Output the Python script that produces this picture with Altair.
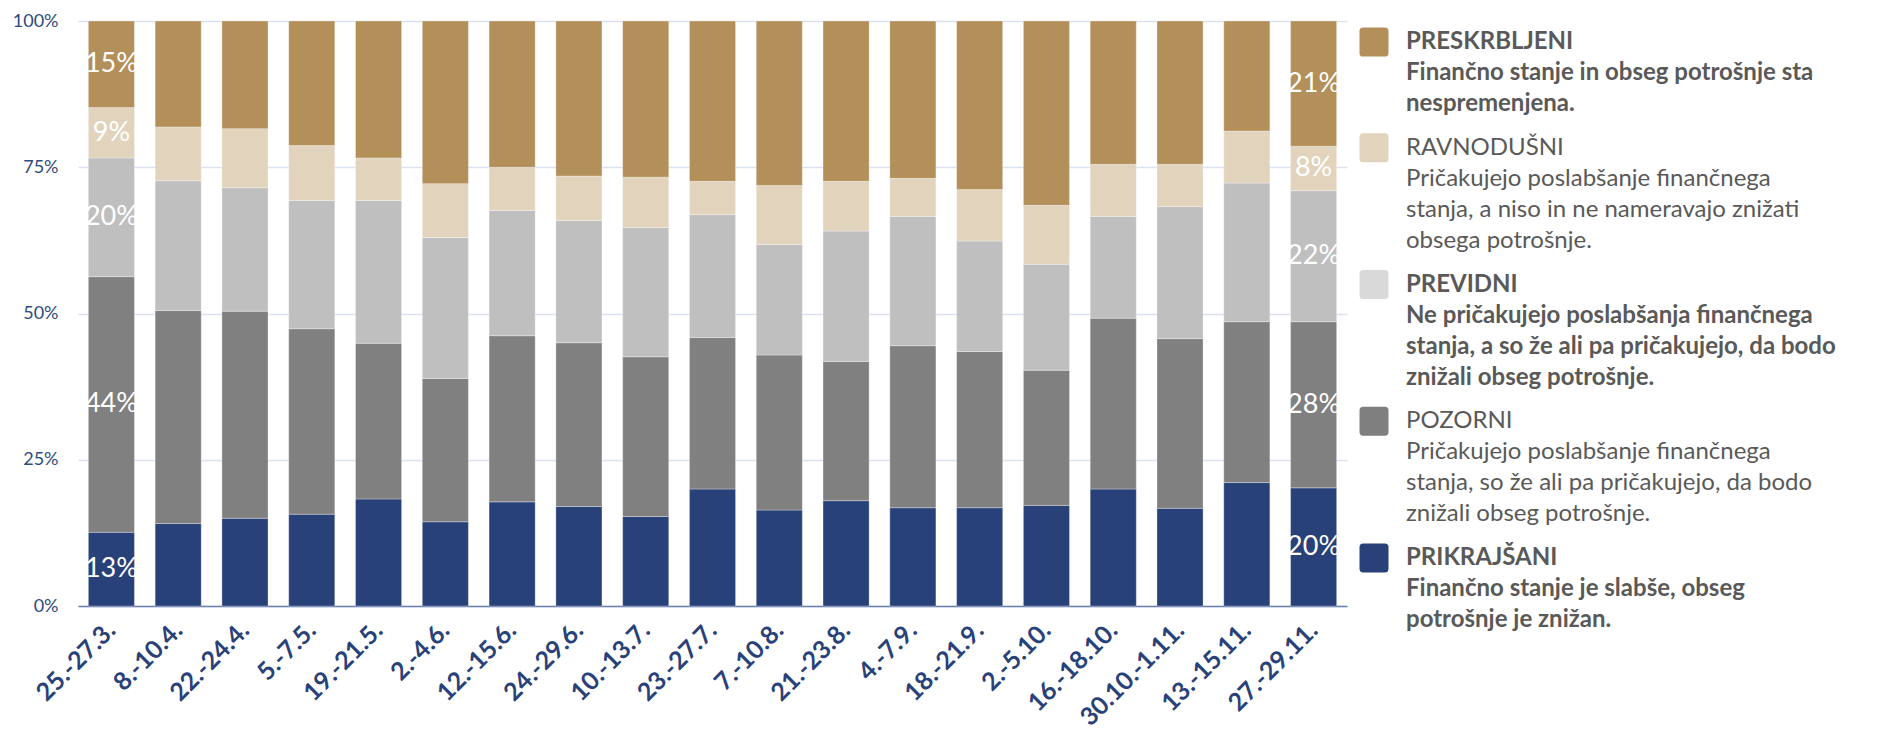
import altair as alt
import pandas as pd

periods = ["25.-27.3.", "8.-10.4.", "22.-24.4.", "5.-7.5.", "19.-21.5.", "2.-4.6.",
           "12.-15.6.", "24.-29.6.", "10.-13.7.", "23.-27.7.", "7.-10.8.", "21.-23.8.",
           "4.-7.9.", "18.-21.9.", "2.-5.10.", "16.-18.10.", "30.10.-1.11.", "13.-15.11.",
           "27.-29.11."]

prikrajsani   = [12.6, 14.1, 15.0, 15.7, 18.3, 14.4, 17.8, 17.0, 15.3, 20.0, 16.4, 18.0, 16.8, 16.8, 17.2, 20.0, 16.7, 21.1, 20.2]
pozorni       = [43.7, 36.4, 35.4, 31.7, 26.6, 24.5, 28.4, 28.0, 27.3, 25.9, 26.5, 23.8, 27.7, 26.7, 23.1, 29.2, 29.0, 27.5, 28.4]
previdni      = [20.3, 22.2, 21.1, 21.9, 24.4, 24.1, 21.4, 20.9, 22.1, 21.0, 18.9, 22.3, 22.1, 18.9, 18.1, 17.4, 22.6, 23.7, 22.4]
ravnodusni    = [8.6, 9.2, 10.1, 9.4, 7.3, 9.2, 7.4, 7.6, 8.6, 5.7, 10.1, 8.5, 6.5, 8.8, 10.1, 8.9, 7.2, 8.9, 7.6]
preskrbljeni  = [14.8, 18.1, 18.4, 21.3, 23.4, 27.8, 25.0, 26.5, 26.7, 27.4, 28.1, 27.4, 26.9, 28.8, 31.5, 24.5, 24.5, 18.8, 21.4]

groups = ["PRIKRAJŠANI", "POZORNI", "PREVIDNI", "RAVNODUŠNI", "PRESKRBLJENI"]
bar_colors = ["#284178", "#808080", "#BFBFBF", "#E2D3BD", "#B38F5A"]
series = [prikrajsani, pozorni, previdni, ravnodusni, preskrbljeni]

legend_groups = ["PRESKRBLJENI", "RAVNODUŠNI", "PREVIDNI", "POZORNI", "PRIKRAJŠANI"]
legend_colors = ["#B38F5A", "#E2D3BD", "#D9D9D9", "#7F7F7F", "#284178"]
legend_bold = [True, False, True, False, True]
legend_text = [
    ["PRESKRBLJENI", "Finančno stanje in obseg potrošnje sta", "nespremenjena."],
    ["RAVNODUŠNI", "Pričakujejo poslabšanje finančnega", "stanja, a niso in ne nameravajo znižati", "obsega potrošnje."],
    ["PREVIDNI", "Ne pričakujejo poslabšanja finančnega", "stanja, a so že ali pa pričakujejo, da bodo", "znižali obseg potrošnje."],
    ["POZORNI", "Pričakujejo poslabšanje finančnega", "stanja, so že ali pa pričakujejo, da bodo", "znižali obseg potrošnje."],
    ["PRIKRAJŠANI", "Finančno stanje je slabše, obseg", "potrošnje je znižan."],
]

FONT = "Lato"

rows = []
for gi, (g, vals) in enumerate(zip(groups, series)):
    for pi, p in enumerate(periods):
        rows.append({"period": p, "group": g, "order": gi, "value": vals[pi]})
df = pd.DataFrame(rows)

x_enc = alt.X("period:N", sort=periods, title=None,
              scale=alt.Scale(paddingInner=0.31, paddingOuter=0.155),
              axis=alt.Axis(labelAngle=-45, labelAlign="right", labelBaseline="middle",
                            labelFont=FONT, labelFontSize=25, labelFontWeight="bold",
                            labelColor="#284178", labelPadding=20, ticks=False,
                            domainColor="#6E7FAE", domainWidth=1.5, grid=False,
                            labelOverlap=False))

base = alt.Chart(df).transform_stack(
    stack="value", groupby=["period"], as_=["y0", "y1"],
    sort=[alt.SortField("order", order="ascending")]
).transform_calculate(mid="(datum.y0 + datum.y1) / 2",
                      pct="format(datum.value, '.0f') + '%'")

bars = base.mark_bar(stroke="#FFFFFF", strokeWidth=0.5, strokeOpacity=0.6).encode(
    x=x_enc,
    y=alt.Y("y0:Q", title=None,
            scale=alt.Scale(domain=[0, 100], nice=False),
            axis=alt.Axis(values=[0, 25, 50, 75, 100], labelExpr="datum.value + '%'",
                          labelFont=FONT, labelFontSize=18, labelColor="#2F4A7D",
                          labelPadding=20, ticks=False, domain=False,
                          gridColor="#D9E1F2", gridWidth=1.5)),
    y2="y1:Q",
    color=alt.Color("group:N", scale=alt.Scale(domain=groups, range=bar_colors), legend=None),
)

labels = base.transform_filter(
    alt.FieldOneOfPredicate(field="period", oneOf=[periods[0], periods[-1]])
).mark_text(font=FONT, fontSize=27, color="#FFFFFF", baseline="middle").encode(
    x=alt.X("period:N", sort=periods),
    y=alt.Y("mid:Q"),
    text="pct:N",
)

bar_chart = alt.layer(bars, labels).properties(width=1269, height=585)

# legend as a separate panel
lrows = []
sym_rows = []
line_idx = 0
for ei, lines in enumerate(legend_text):
    for li, t in enumerate(lines):
        row = line_idx + 0.41 * ei
        lrows.append({"text": t, "row": row, "bold": legend_bold[ei]})
        if li == 0:
            sym_rows.append({"group": legend_groups[ei], "row": row, "color": legend_colors[ei]})
        line_idx += 1
ldf = pd.DataFrame(lrows)
sdf = pd.DataFrame(sym_rows)

yl = alt.Y("row:Q", axis=None, scale=alt.Scale(domain=[-0.68, 19.32], reverse=True, nice=False, zero=False))
rounded = ("M -0.75,-1 L 0.75,-1 Q 1,-1 1,-0.75 L 1,0.75 Q 1,1 0.75,1 L -0.75,1 "
           "Q -1,1 -1,0.75 L -1,-0.75 Q -1,-1 -0.75,-1 Z")
sym = alt.Chart(sdf).mark_point(shape=rounded, filled=True, size=841, opacity=1).encode(
    x=alt.value(15), y=yl, color=alt.Color("color:N", scale=None))
txt_b = alt.Chart(ldf).transform_filter("datum.bold").mark_text(
    font=FONT, fontSize=24, fontWeight="bold", color="#595959", align="left", baseline="middle"
).encode(x=alt.value(47), y=yl, text="text:N")
txt_n = alt.Chart(ldf).transform_filter("!datum.bold").mark_text(
    font=FONT, fontSize=24, fontWeight="normal", color="#595959", align="left", baseline="middle"
).encode(x=alt.value(47), y=yl, text="text:N")
legend_chart = alt.layer(sym, txt_b, txt_n).properties(width=480, height=620)

chart = alt.hconcat(bar_chart, legend_chart, spacing=12).properties(
    padding={"left": 4, "top": 4, "right": 0, "bottom": 0}
).configure_view(stroke=None)

chart.save("out.html", embed_options={"renderer": "svg", "actions": False})
